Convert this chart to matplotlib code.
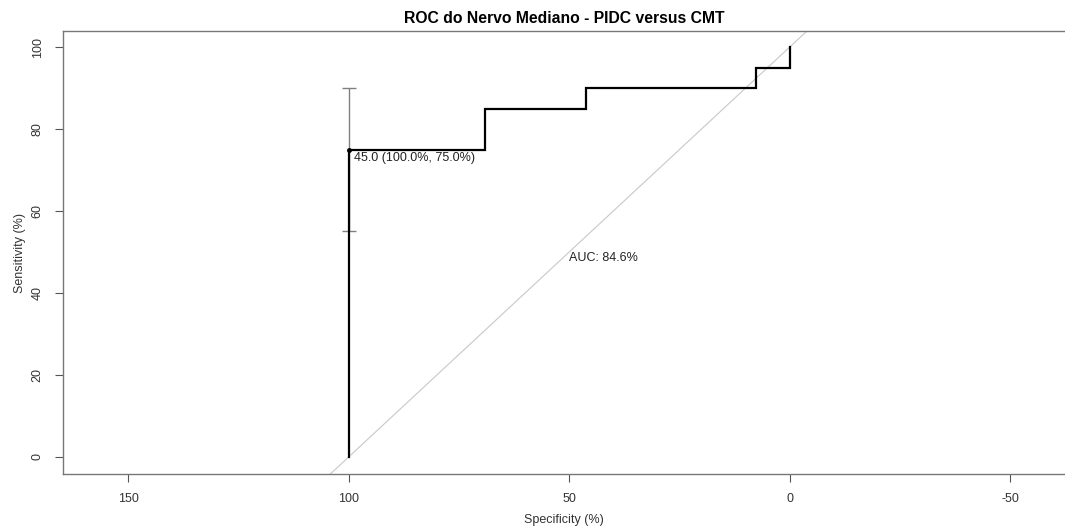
import numpy as np
import matplotlib
matplotlib.use('Agg')
import matplotlib.pyplot as plt

plt.rcParams['font.family'] = ['Liberation Sans', 'DejaVu Sans']

# curva ROC (em %): especificidade decrescente, sensibilidade crescente
especificidade = [100.0, 100.0, 69.2, 69.2, 46.2, 46.2, 7.7, 7.7, 0.0, 0.0]
sensibilidade = [0.0, 75.0, 75.0, 85.0, 85.0, 90.0, 90.0, 95.0, 95.0, 100.0]

# melhor limiar e intervalo de confianca da sensibilidade
limiar = 45.0
limiar_esp = 100.0
limiar_sens = 75.0
ic_sens = [55.0, 90.0]
auc = 84.6

xticks = [150, 100, 50, 0, -50]
yticks = [0, 20, 40, 60, 80, 100]

fig = plt.figure(figsize=(10.65, 5.26), dpi=100)
ax = fig.add_axes([0.0592, 0.0989, 0.9408, 0.8421])

ax.set_xlim(164.75, -62.4)
ax.set_ylim(-4.15, 103.9)

# diagonal de referencia
ax.plot([110, -10], [-10, 110], color='#c8c8c8', lw=0.8, zorder=1)

# curva em degraus
ax.plot(especificidade, sensibilidade, color='black', lw=1.6, zorder=3,
        solid_joinstyle='miter')

# barra de erro no limiar
ax.errorbar([limiar_esp], [limiar_sens],
            yerr=[[limiar_sens - ic_sens[0]], [ic_sens[1] - limiar_sens]],
            fmt='none', ecolor='#808080', elinewidth=1.0, capsize=5, capthick=1.0,
            zorder=2)
ax.plot([limiar_esp], [limiar_sens], 'o', color='black', ms=2.5, zorder=4)
ax.annotate(f'{limiar:.1f} ({limiar_esp:.1f}%, {limiar_sens:.1f}%)',
            (limiar_esp, limiar_sens), xytext=(4, -2), textcoords='offset points',
            ha='left', va='top', fontsize=9, color='#222222')

ax.text(50, 50, f'AUC: {auc:.1f}%', ha='left', va='top', fontsize=9, color='#222222')

ax.set_xticks(xticks)
ax.set_xticklabels([str(t) for t in xticks])
ax.set_yticks(yticks)
ax.set_yticklabels([str(t) for t in yticks], rotation=90, va='center')
ax.tick_params(colors='#555555', labelcolor='#333333', labelsize=9, length=6, width=0.8,
               pad=8)

for s in ax.spines.values():
    s.set_color('#777777')
    s.set_linewidth(1.0)
ax.spines['right'].set_visible(False)

ax.set_xlabel('Specificity (%)', fontsize=9, color='#333333', labelpad=6)
ax.set_ylabel('Sensitivity (%)', fontsize=9, color='#333333', labelpad=4)
ax.set_title('ROC do Nervo Mediano - PIDC versus CMT', fontsize=11.3, fontweight='bold',
             pad=6)

fig.savefig('out.png', dpi=100)
